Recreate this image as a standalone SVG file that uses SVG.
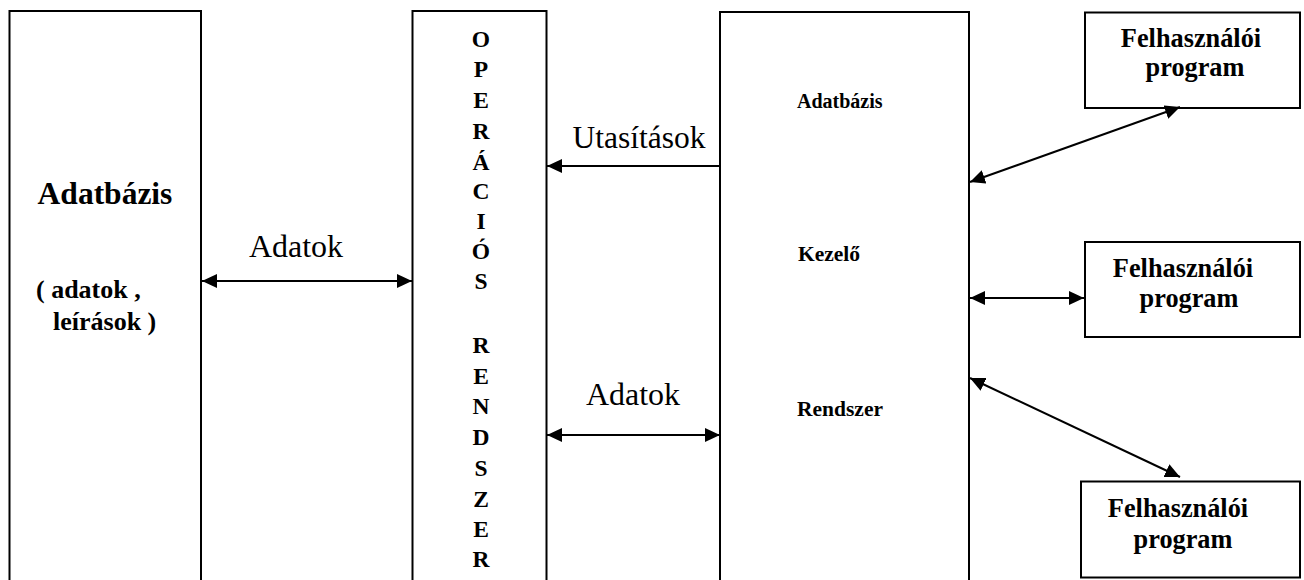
<svg xmlns="http://www.w3.org/2000/svg" width="1304" height="580" viewBox="0 0 1304 580" font-family="'Liberation Serif', Tinos, 'Times New Roman', 'DejaVu Serif', serif">
<style>
text{font-family:'Liberation Serif',Tinos,'Times New Roman','DejaVu Serif',serif;fill:#000}
.b{font-weight:bold}
.box{fill:#fff;stroke:#000;stroke-width:2}
.c{stroke:#000;stroke-width:2;fill:none}
.m{text-anchor:middle}
</style>
<defs>
<marker id="ah" markerUnits="userSpaceOnUse" markerWidth="16" markerHeight="14" refX="15" refY="7" orient="auto-start-reverse">
<path d="M0,0 L15,7 L0,14 z" fill="#000"/>
</marker>
</defs>
<rect width="1304" height="580" fill="#fff"/>
<g id="adatbazis">
<rect class="box" x="9.5" y="11" width="191.5" height="590"/>
<text class="b m" x="105" y="204" font-size="31.5">Adatbázis</text>
<text class="b" x="36" y="298" font-size="26">( adatok ,</text>
<text class="b" x="53" y="330" font-size="26">leírások )</text>
</g>
<g id="operacios-rendszer">
<rect class="box" x="412.5" y="11" width="134" height="590"/>
<g class="b m" font-size="23.5">
<text x="481" y="47">O</text>
<text x="481" y="77">P</text>
<text x="481" y="108">E</text>
<text x="481" y="139">R</text>
<text x="481" y="170">Á</text>
<text x="481" y="199">C</text>
<text x="481" y="229">I</text>
<text x="481" y="259">Ó</text>
<text x="481" y="289">S</text>
<text x="481" y="353">R</text>
<text x="481" y="384">E</text>
<text x="481" y="414">N</text>
<text x="481" y="445">D</text>
<text x="481" y="476">S</text>
<text x="481" y="507">Z</text>
<text x="481" y="537">E</text>
<text x="481" y="567">R</text>
</g>
</g>
<g id="adatbazis-kezelo">
<rect class="box" x="720" y="12" width="249" height="590"/>
<text class="b" x="797" y="108" font-size="20">Adatbázis</text>
<text class="b" x="798" y="261" font-size="21.5">Kezelő</text>
<text class="b" x="797" y="416" font-size="21.5">Rendszer</text>
</g>
<g id="felhasznaloi-1">
<rect class="box" x="1085" y="12.5" width="215" height="95.5"/>
<text class="b m" x="1191" y="47" font-size="26.3">Felhasználói</text>
<text class="b m" x="1195" y="76" font-size="26.3">program</text>
</g>
<g id="felhasznaloi-2">
<rect class="box" x="1085" y="242" width="215" height="95"/>
<text class="b m" x="1183" y="277" font-size="26.3">Felhasználói</text>
<text class="b m" x="1189" y="307" font-size="26.3">program</text>
</g>
<g id="felhasznaloi-3">
<rect class="box" x="1081" y="481.5" width="219" height="96"/>
<text class="b m" x="1178" y="517" font-size="26.3">Felhasználói</text>
<text class="b m" x="1183" y="548" font-size="26.3">program</text>
</g>
<g id="connectors">
<line class="c" x1="202" y1="281" x2="412" y2="281" marker-start="url(#ah)" marker-end="url(#ah)"/>
<line class="c" x1="720" y1="166" x2="547" y2="166" marker-end="url(#ah)"/>
<line class="c" x1="547" y1="435" x2="720" y2="435" marker-start="url(#ah)" marker-end="url(#ah)"/>
<line class="c" x1="970" y1="182" x2="1180" y2="107" marker-start="url(#ah)" marker-end="url(#ah)"/>
<line class="c" x1="970" y1="298" x2="1084" y2="298" marker-start="url(#ah)" marker-end="url(#ah)"/>
<line class="c" x1="970" y1="378" x2="1180" y2="477" marker-start="url(#ah)" marker-end="url(#ah)"/>
</g>
<g id="labels">
<text class="m" x="296" y="257" font-size="32">Adatok</text>
<text class="m" x="639" y="148" font-size="31.5">Utasítások</text>
<text class="m" x="633" y="405" font-size="32">Adatok</text>
</g>
</svg>
